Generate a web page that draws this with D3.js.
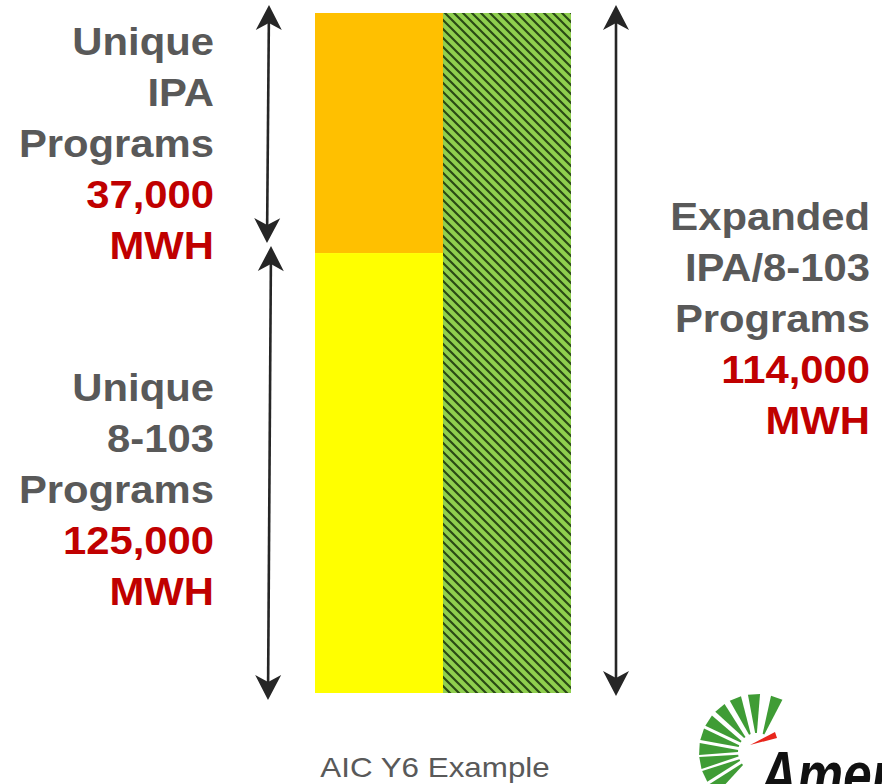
<!DOCTYPE html>
<html>
<head>
<meta charset="utf-8">
<script src="https://cdn.jsdelivr.net/npm/d3@7"></script>
<style>
  html, body { margin: 0; padding: 0; background: #fff; }
  svg { display: block; }
</style>
</head>
<body>
<svg id="chart" width="882" height="784"></svg>
<script>
// column categories
const columns = ["unique", "expanded"];

// stacked segments of the left column (top to bottom)
const segmentNames = ["Unique IPA Programs", "Unique 8-103 Programs"];
const segmentTitle = [["Unique", "IPA", "Programs"], ["Unique", "8-103", "Programs"]];
const segmentMWh = [37000, 125000];
// share of the column height as drawn in the slide (not to scale with MWh)
const segmentShare = [0.353, 0.647];
const segmentColors = ["#FFC000", "#FFFF00"];

// right column
const expandedTitle = ["Expanded", "IPA/8-103", "Programs"];
const expandedMWh = [114000];
const expandedShare = [1];

const caption = "AIC Y6 Example";

const svg = d3.select("#chart");
const fmt = d3.format(",");
const gray = "#595959", red = "#C00000", arrowColor = "#262626";

/** Scales */
const x = d3.scaleBand().domain(columns).range([315, 571]).padding(0);
const y = d3.scaleLinear().domain([0, 1]).range([13, 693]);

// hatch pattern for the expanded column
let defs = svg.append("defs");
let tile = 9;
let pat = defs.append("pattern")
    .attr("id", "hatch")
    .attr("patternUnits", "userSpaceOnUse")
    .attr("width", tile)
    .attr("height", tile);
pat.append("rect").attr("width", tile).attr("height", tile).attr("fill", "#8FCF4E");
pat.append("path")
    .attr("d", `M-2,-2 L${tile + 2},${tile + 2} M-2,${tile - 2} L2,${tile + 2} M${tile - 2},-2 L${tile + 2},2`)
    .attr("stroke", "#2A4A14")
    .attr("stroke-width", 2.2);

// stacked segments
let stack = segmentShare.map((s, i) => {
    let start = d3.sum(segmentShare.slice(0, i));
    return {name: segmentNames[i], share: s, y0: start, y1: start + s, color: segmentColors[i]};
});

svg.append("g").selectAll("rect")
    .data(stack).enter()
    .append("rect")
    .attr("x", x("unique"))
    .attr("y", d => y(d.y0))
    .attr("width", x.bandwidth())
    .attr("height", d => y(d.y1) - y(d.y0))
    .attr("fill", d => d.color);

svg.append("rect")
    .attr("x", x("expanded"))
    .attr("y", y(0))
    .attr("width", x.bandwidth())
    .attr("height", y(expandedShare[0]) - y(0))
    .attr("fill", "url(#hatch)");

/** Arrows with stealth heads on both ends */
function drawArrow(x0, y0, x1, y1) {
    let g = svg.append("g");
    let ang = Math.atan2(y1 - y0, x1 - x0);
    let len = Math.hypot(x1 - x0, y1 - y0);
    let inner = g.append("g")
        .attr("transform", `translate(${x0},${y0}) rotate(${ang * 180 / Math.PI})`);
    inner.append("line")
        .attr("x1", 12).attr("y1", 0)
        .attr("x2", len - 12).attr("y2", 0)
        .attr("stroke", arrowColor)
        .attr("stroke-width", 2.6);
    // head at start (pointing back) and end
    inner.append("path")
        .attr("d", "M0,0 L25,-13 L18,0 L25,13 Z")
        .attr("fill", arrowColor);
    inner.append("path")
        .attr("d", `M${len},0 L${len - 25},-13 L${len - 18},0 L${len - 25},13 Z`)
        .attr("fill", arrowColor);
}

drawArrow(269, y(stack[0].y0) - 8, 267, y(stack[0].y1) - 10);
drawArrow(271, y(stack[1].y0) - 7, 268, y(stack[1].y1) + 7);
drawArrow(616, y(0) - 8, 616, y(expandedShare[0]) + 3);

/** Text blocks: gray title lines and red value lines */
function textBlock(xRight, firstBaseline, titleLines, value) {
    let lines = titleLines.map(t => ({text: t, color: gray}))
        .concat([{text: fmt(value), color: red}, {text: "MWH", color: red}]);
    let g = svg.append("g");
    g.selectAll("text")
        .data(lines).enter()
        .append("text")
        .attr("transform", (d, i) => `translate(${xRight},${firstBaseline + i * 51}) scale(1.1,1)`)
        .attr("text-anchor", "end")
        .attr("font-family", "Liberation Sans, Arial, sans-serif")
        .attr("font-weight", "bold")
        .attr("font-size", 38)
        .attr("fill", d => d.color)
        .text(d => d.text);
}

textBlock(214, 55, segmentTitle[0], segmentMWh[0]);
textBlock(214, 401, segmentTitle[1], segmentMWh[1]);
textBlock(870, 230, expandedTitle, expandedMWh[0]);

// caption
svg.append("text")
    .attr("transform", "translate(435,777) scale(1.12,1)")
    .attr("text-anchor", "middle")
    .attr("font-family", "Liberation Sans, Arial, sans-serif")
    .attr("font-size", 28)
    .attr("fill", gray)
    .text(caption);

/** Logo (cropped at the window edge, as in the slide) */
let logo = svg.append("g").attr("transform", "translate(757,752)");
let rayAngles = [70, 93, 112, 130, 147, 162, 177, 191, 205, 220];
rayAngles.forEach(a => {
    let w = 6;
    let r0 = 19, r1 = 58;
    let p = [[r0, a - w * 0.45], [r1, a - w], [r1, a + w], [r0, a + w * 0.45]]
        .map(([r, t]) => [r * Math.cos(t * Math.PI / 180), -r * Math.sin(t * Math.PI / 180)]);
    logo.append("path")
        .attr("d", d3.line()(p) + "Z")
        .attr("fill", "#3F9C35");
});
logo.append("path")
    .attr("d", "M-7,-7 L18,-20 L20,-14 Z")
    .attr("fill", "#E8261C");

svg.append("text")
    .attr("transform", "translate(760,798) scale(0.78,1)")
    .attr("font-family", "Liberation Sans, Arial, sans-serif")
    .attr("font-weight", "bold")
    .attr("font-style", "italic")
    .attr("font-size", 66)
    .attr("fill", "#111")
    .text("Ameren");
</script>
</body>
</html>
